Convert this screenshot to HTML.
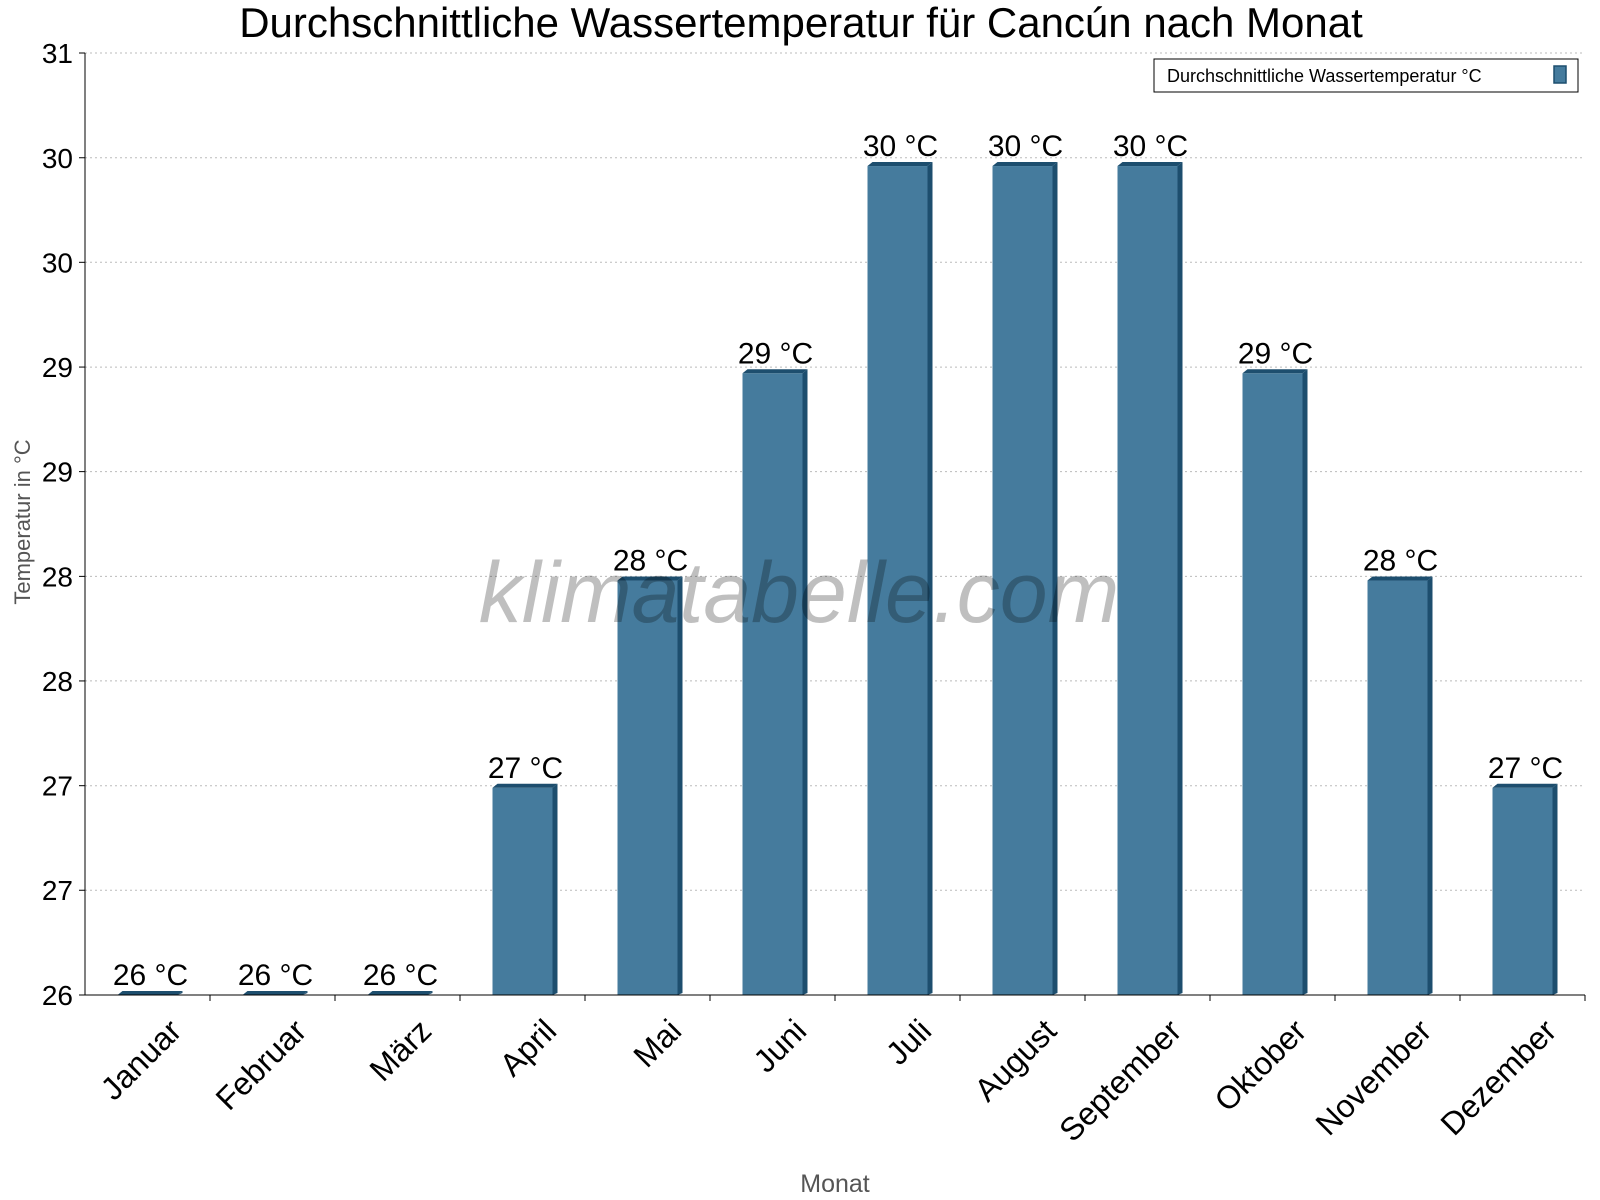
<!DOCTYPE html>
<html><head><meta charset="utf-8"><style>
html,body{margin:0;padding:0;background:#fff;}
svg{display:block;font-family:"Liberation Sans",sans-serif;}
</style></head><body>
<svg id="chart" width="1600" height="1200" viewBox="0 0 1600 1200">
<text x="801" y="37" font-size="42" text-anchor="middle">Durchschnittliche Wassertemperatur für Cancún nach Monat</text>
<g id="grid"></g>
<g id="bars"></g>
<text x="799" y="622" font-size="86" font-style="italic" fill="#000" fill-opacity="0.25" text-anchor="middle">klimatabelle.com</text>
<g id="axes"></g>
<text transform="translate(30,522) rotate(-90)" font-size="22" fill="#555" text-anchor="middle">Temperatur in °C</text>
<text x="835" y="1192" font-size="25" fill="#555" text-anchor="middle">Monat</text>
<g>
<rect x="1154" y="59" width="424" height="33" fill="#fff" stroke="#000" stroke-width="1"/>
<text x="1167" y="82" font-size="18">Durchschnittliche Wassertemperatur °C</text>
<rect x="1554" y="66" width="12" height="17" fill="#457b9d" stroke="#1d4e6e" stroke-width="1.5"/>
</g>
</svg>
<script>
const categories=["Januar","Februar","März","April","Mai","Juni","Juli","August","September","Oktober","November","Dezember"];
const values=[26,26,26,27.1,28.2,29.3,30.4,30.4,30.4,29.3,28.2,27.1];
const valueLabels=["26 °C","26 °C","26 °C","27 °C","28 °C","29 °C","30 °C","30 °C","30 °C","29 °C","28 °C","27 °C"];
const yTicks=[26,26.556,27.111,27.667,28.222,28.778,29.333,29.889,30.444,31];
const yTickLabels=["26","27","27","28","28","29","29","30","30","31"];
const NS="http://www.w3.org/2000/svg";
const X0=85,X1=1585,Y0=995,Y1=53,YMIN=26,YMAX=31;
const y=v=>Y0-(v-YMIN)/(YMAX-YMIN)*(Y0-Y1);
const bw=(X1-X0)/categories.length;
const xc=i=>X0+bw*(i+0.5);
function mk(t,a,p){const e=document.createElementNS(NS,t);for(const k in a)e.setAttribute(k,a[k]);p.appendChild(e);return e;}
const grid=document.getElementById('grid'),axes=document.getElementById('axes'),bars=document.getElementById('bars');
yTicks.forEach((v,i)=>{
 const g=mk('line',{x1:X0,x2:X1,y1:y(v),y2:y(v),stroke:'#bbb','stroke-dasharray':'2,3'},grid);
 
 
 const tk=mk('line',{x1:X0-6,x2:X0,y1:y(v),y2:y(v),stroke:'#000'},axes);
 
 
 const t=mk('text',{x:X0-12,y:y(v)+10,'font-size':28,'text-anchor':'end'},axes);
 t.textContent=yTickLabels[i];
 
 
});
mk('line',{x1:X0,x2:X0,y1:Y1,y2:Y0,stroke:'#000'},axes);
mk('line',{x1:X0,x2:X1,y1:Y0,y2:Y0,stroke:'#000'},axes);
categories.forEach((c,i)=>{
 const x=X0+bw*(i+1);
 const tk=mk('line',{x1:x,x2:x,y1:Y0,y2:Y0+6,stroke:'#000'},axes);
 
 
 const cx=xc(i)+20, cy=Y0+22;
 const t=mk('text',{x:cx,y:cy,'font-size':32,'text-anchor':'end',transform:`rotate(-45 ${cx} ${cy})`,dy:'0.7em'},axes);
 t.textContent=c;
 
 
 const w=60,left=xc(i)-w/2,top=y(values[i]),d=5;
 const g=mk('g',{},bars);
 
 
 mk('rect',{x:left,y:top,width:w,height:Y0-top,fill:'#457b9d'},g);
 mk('polygon',{points:`${left+w},${top} ${left+w+d},${top-4} ${left+w+d},${Y0-2} ${left+w},${Y0}`,fill:'#1d4e6e'},g);
 mk('polygon',{points:`${left},${top} ${left+d},${top-4} ${left+w+d},${top-4} ${left+w},${top}`,fill:'#1d4e6e'},g);
 const lb=mk('text',{x:xc(i)+3,y:top-10,'font-size':30,'text-anchor':'middle'},bars);
 lb.textContent=valueLabels[i];
 
 
});
</script>
</body></html>
